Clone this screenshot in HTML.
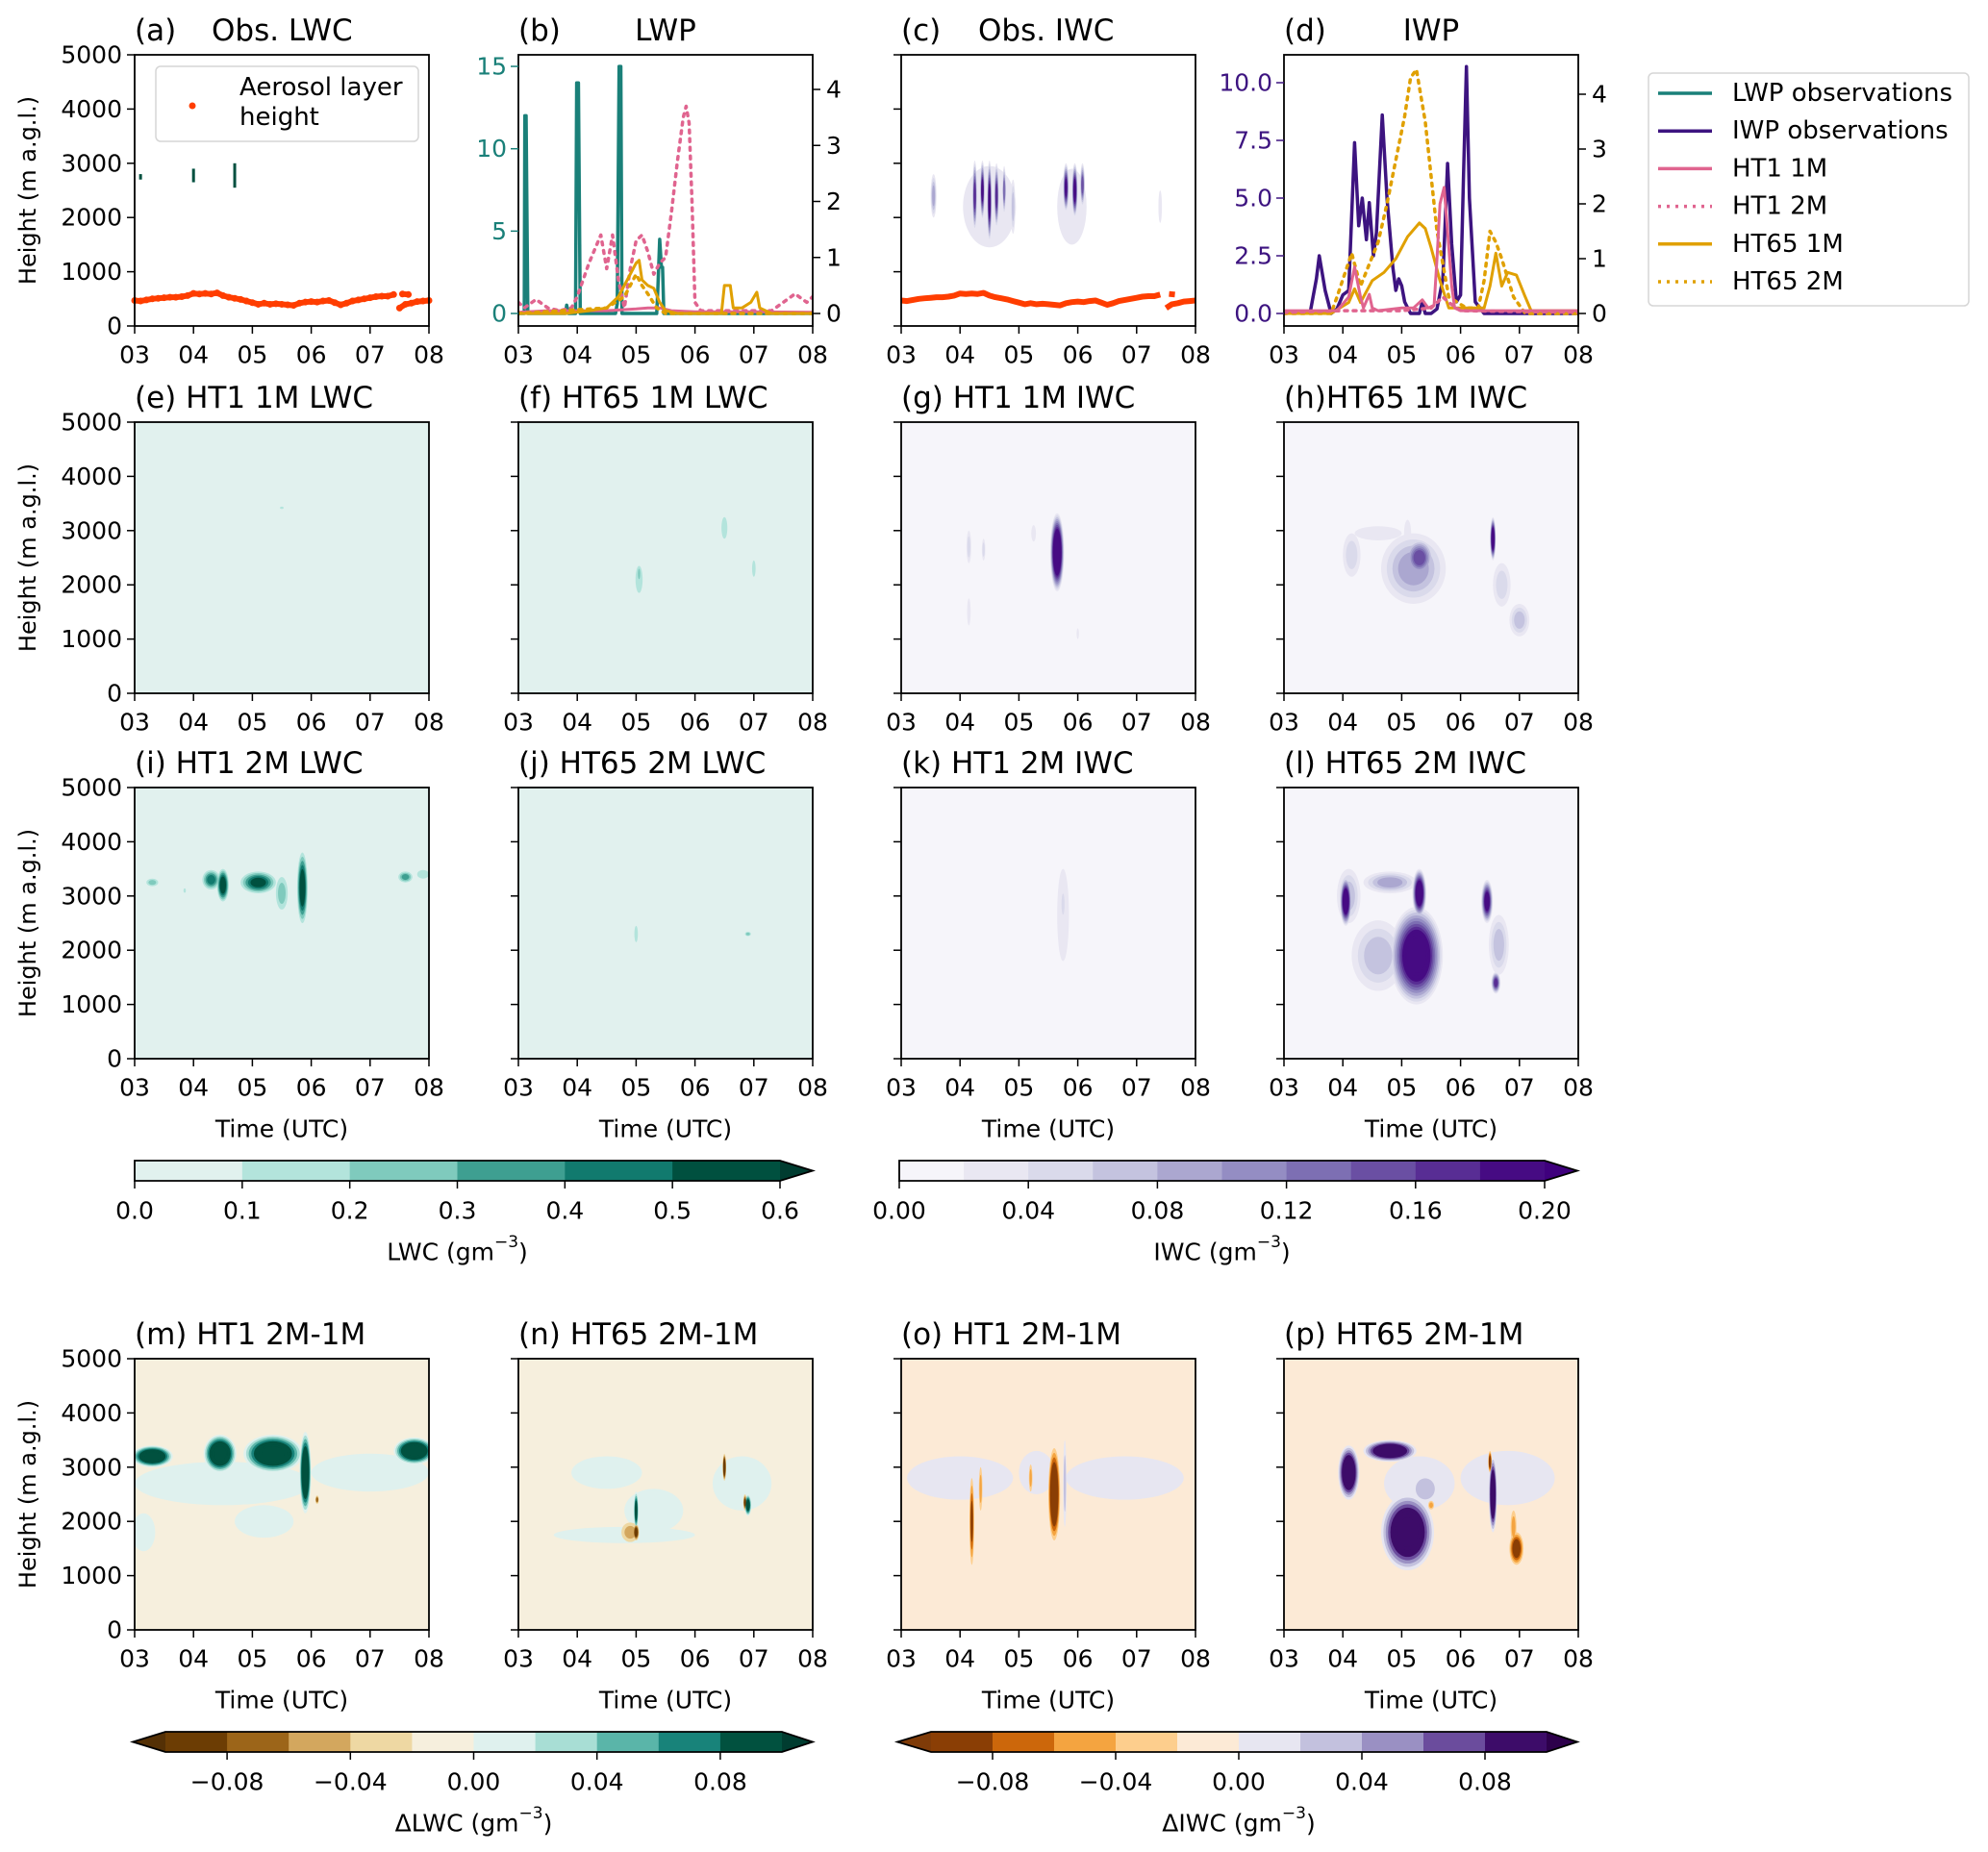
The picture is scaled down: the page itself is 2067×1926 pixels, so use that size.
<!DOCTYPE html>
<html><head><meta charset="utf-8"><style>
html,body{margin:0;padding:0;background:#fff;}
svg{display:block;font-family:"DejaVu Sans","Liberation Sans",sans-serif;}
</style></head><body>
<svg id="fig" xmlns="http://www.w3.org/2000/svg" width="2067" height="1926" viewBox="0 0 2067 1926"></svg>
<script>
// ---------- data ----------
const timeTicks = ["03","04","05","06","07","08"];
const heightTicks = [0,1000,2000,3000,4000,5000];
const lwpLeftTicks = [0,5,10,15];
const rightTicks = [0,1,2,3,4];
const iwpLeftTicks = ["0.0","2.5","5.0","7.5","10.0"];
const lwcCbTicks = ["0.0","0.1","0.2","0.3","0.4","0.5","0.6"];
const iwcCbTicks = ["0.00","0.04","0.08","0.12","0.16","0.20"];
const dCbTicks = ["\u22120.08","\u22120.04","0.00","0.04","0.08"];

// panel (a) aerosol layer height
const aerT = [3.0,3.1,3.2,3.3,3.4,3.5,3.6,3.7,3.8,3.9,4.0,4.1,4.2,4.3,4.4,4.5,4.6,4.7,4.8,4.9,5.0,5.1,5.2,5.3,5.4,5.5,5.6,5.7,5.8,5.9,6.0,6.1,6.2,6.3,6.4,6.5,6.6,6.7,6.8,6.9,7.0,7.1,7.2,7.3,7.4];
const aerH = [470,460,480,500,510,520,530,530,540,560,600,590,600,590,610,560,530,510,490,460,430,400,420,400,410,400,390,380,420,440,450,440,460,470,430,390,420,460,480,500,520,540,550,550,580];
const aerT2 = [7.5,7.6,7.7,7.8,7.9,8.0];
const aerH2 = [330,400,420,450,460,470];
const aerT3 = [7.55,7.65];
const aerH3 = [590,580];
const obsLwcT = [3.1,4.0,4.7];
const obsLwcBot = [2700,2650,2550];
const obsLwcTop = [2800,2900,3000];

// panel (b) LWP
const lwpObsT = [3.0,3.1,3.11,3.13,3.16,3.18,3.8,3.82,3.85,3.97,3.99,4.02,4.05,4.07,4.65,4.68,4.71,4.74,4.76,5.35,5.37,5.4,5.43,5.45,5.47,5.5,8.0];
const lwpObsV = [0,0,12,12,0,0,0,0.5,0,0,14,14,0,0,0,0.6,15,15,0,0,1.5,4.5,2.8,2.8,0,0,0];
const bHt1m1T = [3,3.5,4,4.5,5,5.2,5.4,5.6,6,7,8];
const bHt1m1V = [0.02,0.05,0.05,0.05,0.08,0.1,0.1,0.05,0.03,0.03,0.02];
const bHt1m2T = [3,3.1,3.3,3.5,3.7,3.9,4.0,4.2,4.4,4.5,4.6,4.7,4.8,4.9,5.0,5.1,5.2,5.3,5.4,5.5,5.6,5.7,5.8,5.85,5.9,5.95,6.0,6.1,6.5,7.0,7.3,7.5,7.7,7.9,8.0];
const bHt1m2V = [0.2,0.1,0.25,0.1,0.05,0.1,0.3,0.9,1.4,0.8,1.4,0.6,0.1,0.8,1.3,1.4,1.1,0.7,0.9,1.0,1.8,2.7,3.5,3.7,3.4,2.0,0.2,0.05,0.05,0.05,0.05,0.2,0.35,0.2,0.3];
const bHt65m1T = [3,3.8,4.2,4.5,4.7,4.9,5.0,5.05,5.1,5.2,5.3,5.4,5.5,5.7,6.0,6.45,6.5,6.6,6.65,6.8,6.95,7.05,7.1,7.3,8];
const bHt65m1V = [0,0,0.05,0.1,0.3,0.7,0.9,0.95,0.6,0.5,0.45,0.2,0.05,0,0,0,0.5,0.5,0.1,0.1,0.2,0.38,0.1,0,0];
const bHt65m2T = [3,4.5,4.8,5.0,5.1,5.2,5.35,5.5,5.8,8];
const bHt65m2V = [0,0.1,0.3,0.7,0.5,0.35,0.1,0,0,0];

// panel (d) IWP
const iwpObsT = [3,3.45,3.55,3.6,3.7,3.8,3.9,4.0,4.1,4.2,4.27,4.33,4.4,4.45,4.52,4.57,4.62,4.67,4.75,4.85,4.9,4.95,5.0,5.05,5.15,5.3,5.35,5.4,5.5,5.6,5.7,5.78,5.85,5.93,6.0,6.05,6.1,6.15,6.25,6.4,6.5,8];
const iwpObsV = [0,0.1,1.5,2.5,1.0,0,0.2,0.8,1.0,7.4,3.8,5.0,3.2,4.8,2.5,3.5,6.0,8.6,5.0,2.0,1.0,1.5,1.2,0.5,0,0,0.5,0,0,0.2,1.5,6.5,3.0,0.5,0.8,6.0,10.7,5,0.5,0,0,0];
const dHt1m1T = [3,3.9,4.1,4.2,4.3,4.35,4.45,4.5,4.6,5.0,5.2,5.35,5.45,5.55,5.6,5.65,5.72,5.78,5.85,5.9,6.0,6.5,8];
const dHt1m1V = [0.05,0.05,0.3,0.85,0.3,0.1,0.35,0.1,0.05,0.1,0.1,0.25,0.1,0.15,1.0,2.0,2.3,1.5,0.5,0.1,0.05,0.05,0.05];
const dHt1m2T = [3,4,5,5.5,5.7,5.8,6,8];
const dHt1m2V = [0.02,0.05,0.05,0.1,0.3,0.2,0.05,0.02];
const dHt65m1T = [3,3.8,4.1,4.2,4.3,4.5,4.7,4.9,5.1,5.3,5.4,5.5,5.65,5.8,6.4,6.5,6.6,6.7,6.8,6.95,7.1,7.2,8];
const dHt65m1V = [0,0,0.2,0.45,0.2,0.6,0.75,1.0,1.4,1.65,1.55,1.2,0.6,0.1,0.1,0.5,1.1,0.5,0.75,0.7,0.3,0.05,0.05];
const dHt65m2T = [3,3.8,3.9,4.15,4.3,4.45,4.6,4.75,4.9,5.05,5.15,5.25,5.4,5.5,5.6,5.8,6.1,6.3,6.4,6.5,6.6,6.7,6.9,7.1,8];
const dHt65m2V = [0,0,0.3,1.1,0.5,0.9,1.3,2.0,2.8,3.6,4.3,4.45,3.5,2.5,1.5,0.3,0.1,0.1,0.6,1.5,1.3,1.0,0.3,0,0];

// contour blobs: [time, height, halfWidthHours, halfHeightM, level]
const blobsC = [[4.5,2200,0.45,750,1],[5.9,2200,0.25,700,1],[3.55,2400,0.05,400,4],[4.25,2400,0.04,650,8],[4.38,2500,0.04,550,9],[4.5,2300,0.04,750,10],[4.62,2400,0.04,600,8],[4.75,2500,0.03,450,6],[4.9,2200,0.04,500,3],[5.8,2550,0.05,450,9],[5.95,2500,0.05,500,10],[6.08,2600,0.04,400,7],[7.4,2200,0.03,300,1]];
const blobsE = [[5.5,3420,0.03,20,1]];
const blobsF = [[5.05,2100,0.06,250,1],[5.05,2200,0.02,150,2],[6.5,3050,0.05,200,1],[7.0,2300,0.03,150,1]];
const blobsG = [[4.15,2700,0.04,300,2],[4.15,1500,0.03,250,1],[4.4,2650,0.03,200,2],[5.25,2950,0.04,150,1],[5.65,2600,0.12,720,14],[6.0,1100,0.02,100,1]];
const blobsH = [[4.15,2550,0.15,400,2],[4.6,2950,0.4,130,1],[5.1,2950,0.06,250,1],[5.2,2300,0.55,650,4],[5.3,2500,0.25,350,7],[6.55,2850,0.05,400,12],[6.7,2000,0.15,400,2],[7.0,1350,0.17,300,3]];
const blobsI = [[3.3,3250,0.1,70,2],[3.85,3100,0.02,40,1],[4.3,3300,0.15,180,4],[4.5,3200,0.1,300,6],[5.1,3250,0.3,200,5],[5.5,3050,0.1,300,2],[5.85,3150,0.09,650,6],[7.6,3350,0.12,100,3],[7.9,3400,0.1,80,1]];
const blobsJ = [[5.0,2300,0.03,150,1],[6.9,2300,0.05,40,2]];
const blobsK = [[5.75,2650,0.1,850,1],[5.75,2850,0.04,300,2]];
const blobsL = [[4.1,3000,0.2,500,3],[4.05,2900,0.1,450,12],[4.8,3250,0.45,200,4],[4.6,1900,0.45,650,3],[5.25,1900,0.45,900,12],[5.3,3050,0.12,450,12],[6.45,2900,0.1,400,10],[6.65,2100,0.17,550,3],[6.6,1400,0.08,200,8]];
const blobsM = [[4.5,2700,1.5,400,1],[7.0,2900,1.0,350,1],[5.2,2000,0.5,300,1],[3.15,1800,0.2,350,1],[3.3,3200,0.35,200,8],[4.45,3250,0.28,350,8],[5.35,3250,0.5,350,8],[5.9,2900,0.1,750,8],[7.75,3300,0.35,250,8],[6.1,2400,0.03,80,-3]];
const blobsN = [[4.5,2900,0.6,300,1],[5.3,2200,0.5,400,1],[4.8,1750,1.2,150,1],[6.8,2700,0.5,500,1],[5.0,2200,0.04,350,6],[4.9,1800,0.15,180,-2],[5.0,1800,0.05,150,-5],[6.5,3000,0.03,250,-6],[6.9,2300,0.06,200,6],[6.85,2350,0.03,150,-4]];
const blobsO = [[4.0,2800,0.9,400,1],[6.8,2800,1.0,400,1],[5.3,2900,0.3,400,1],[4.2,2000,0.04,800,-4],[4.35,2600,0.03,400,-2],[5.2,2800,0.03,250,-2],[5.6,2500,0.1,850,-7],[5.78,2700,0.03,800,2]];
const blobsP = [[6.8,2800,0.8,500,1],[5.3,2700,0.6,500,1],[4.1,2900,0.18,500,8],[4.8,3300,0.45,200,8],[5.1,1800,0.45,700,8],[5.4,2600,0.25,300,2],[5.5,2300,0.05,80,-2],[6.55,2500,0.07,700,8],[6.5,3100,0.03,200,-5],[6.95,1500,0.12,300,-5],[6.9,1900,0.05,300,-2]];

// ---------- styles ----------
const lwcC = ['#e1f1ee','#b3e4dc','#7fcabd','#3e9f91','#117a6e','#00503f'];
const iwcC = ['#f6f5fa','#e9e7f2','#dadaeb','#c4c3df','#aba7d0','#948dc3','#7d6fb3','#6a4fa3','#582d94','#460b83'];
const dlwcC = ['#6c3d04','#9c6519','#d3a75e','#eed8a3','#f6efdd','#dff1ee','#a8ded5','#5ab5a9','#18837a','#01513f'];
const diwcC = ['#8a3e05','#cc670b','#f4a440','#fdce8d','#fcead6','#e7e6f1','#c3c1de','#9a90c3','#6b4c9d','#3d0c69'];
const TEAL='#1a8079', PURP='#3d1480', PINK='#e0648f', GOLD='#e0a000';

const NS='http://www.w3.org/2000/svg';
const svg=document.getElementById('fig');
const X0=[140,539,937,1335], W=306, ROWY=[57,439,819,1413], H=282;
function mk(tag,attrs,parent){const e=document.createElementNS(NS,tag);for(const k in attrs)e.setAttribute(k,attrs[k]);(parent||svg).appendChild(e);return e;}
function txt(x,y,s,size,anchor,fill,parent){const t=mk('text',{x:x,y:y,'font-size':size,'text-anchor':anchor||'start',fill:fill||'#000','dominant-baseline':'central','xml:space':'preserve'},parent);t.textContent=s;return t;}

function panelGroup(id,c,r){
  const g=mk('g',{});
  
  
  const cp=mk('clipPath',{id:'clip-'+id},g);
  mk('rect',{x:X0[c],y:ROWY[r],width:W,height:H},cp);
  return g;
}
function xT(c,t){return X0[c]+(t-3)/5*W;}
function yHm(r,h){return ROWY[r]+H-h/5000*H;}

function frame(g,c,r,bg){
  const b=mk('rect',{x:X0[c],y:ROWY[r],width:W,height:H,fill:bg},g);
  
  
}
function axesDecor(g,c,r,opts){
  const x0=X0[c], y0=ROWY[r];
  mk('rect',{x:x0,y:y0,width:W,height:H,fill:'none',stroke:'#000','stroke-width':1.8},g);
  const xa=mk('g',{},g);
  
  
  timeTicks.forEach((lab,i)=>{
    const x=xT(c,3+i);
    mk('line',{x1:x,y1:y0+H,x2:x,y2:y0+H+8,stroke:'#000','stroke-width':1.5},xa);
    const t=txt(x,y0+H+30,lab,25,'middle','#000',xa);
    
    
  });
  if(opts.heightAxis){
    const ya=mk('g',{},g);
    
    
    heightTicks.forEach(h=>{
      const y=yHm(r,h);
      mk('line',{x1:x0-8,y1:y,x2:x0,y2:y,stroke:'#000','stroke-width':1.5},ya);
      if(c===0){const t=txt(x0-13,y,String(h),25,'end','#000',ya);
        
        }
    });
    if(c===0){
      const yl=txt(0,0,'Height (m a.g.l.)',24,'middle','#000',ya);
      yl.setAttribute('transform','translate(29,'+(y0+H/2)+') rotate(-90)');
      
      
    }
  }
  if(opts.xlabel){
    const xl=txt(x0+W/2,y0+H+73,'Time (UTC)',25,'middle','#000',g);
    
    
  }
}
function title(g,c,r,parts){
  const x0=X0[c], y=ROWY[r]-25;
  parts.forEach(p=>{
    const t=txt(p[1]==='c'?x0+W/2:x0+p[1],y,p[0],31,p[1]==='c'?'middle':'start','#000',g);
    
    
  });
}
function drawBlobs(g,id,c,r,blobs,cmap,base){
  const cg=mk('g',{'clip-path':'url(#clip-'+id+')'},g);
  
  
  let maxL=0; blobs.forEach(b=>{maxL=Math.max(maxL,Math.abs(b[4]));});
  for(let k=1;k<=maxL;k++){
    blobs.forEach(b=>{
      const n=Math.abs(b[4]); if(n<k) return;
      const s=1-(k-1)/n*0.7, neg=b[4]<0;
      const col=cmap[Math.max(0,Math.min(cmap.length-1, neg? base-k : base+k))];
      const cx=xT(c,b[0]), cy=yHm(r,b[1]);
      const e=mk('ellipse',{cx:cx,cy:cy,rx:Math.max(1.2,b[2]/5*W*s),ry:Math.max(1.2,b[3]/5000*H*s),fill:col},cg);
      
      
    });
  }
}
function line(g,id,xs,ys,tArr,vArr,color,dotted,width){
  let d='';tArr.forEach((t,i)=>{d+=(i?'L':'M')+xs(t).toFixed(1)+' '+ys(vArr[i]).toFixed(1);});
  const p=mk('path',{d:d,fill:'none',stroke:color,'stroke-width':width||3,'stroke-linejoin':'round','clip-path':'url(#clip-'+id+')'},g);
  if(dotted){p.setAttribute('stroke-dasharray','3 6');p.setAttribute('stroke-linecap','round');}
  return p;
}

// ---------- row 1 ----------
{const g=panelGroup('a',0,0);
 const xs=t=>xT(0,t), ys=h=>yHm(0,h);
 obsLwcT.forEach((t,i)=>{const l=mk('line',{x1:xs(t),y1:ys(obsLwcBot[i]),x2:xs(t),y2:ys(obsLwcTop[i]),stroke:'#00503f','stroke-width':3},g);
   
   });
 [[aerT,aerH],[aerT2,aerH2],[aerT3,aerH3]].forEach(s=>{
   const p=line(g,'a',xs,ys,s[0],s[1],'#ff3d00',false,6);
   
   
   s[0].forEach((t,i)=>{const cc=mk('circle',{cx:xs(t),cy:ys(s[1][i]),r:3.5,fill:'#ff3d00'},g);
     
     });
 });
 const lg=mk('g',{},g);
 
 
 mk('rect',{x:162,y:69,width:273,height:78,rx:5,fill:'#fff','fill-opacity':0.8,stroke:'#d6d6d6','stroke-width':1.5},lg);
 mk('circle',{cx:200,cy:110,r:3.5,fill:'#ff3d00'},lg);
 txt(249,91,'Aerosol layer',26,'start','#000',lg);
 txt(249,122,'height',26,'start','#000',lg);
 axesDecor(g,0,0,{heightAxis:true});
 title(g,0,0,[['(a)',0],['Obs. LWC',80]]);
}
{const g=panelGroup('b',1,0);
 const xs=t=>xT(1,t);
 const yl=v=>326-v*17.13, yr=v=>326-v*58.25;
 const s1=line(g,'b',xs,yl,lwpObsT,lwpObsV,TEAL,false,3.5);
 
 
 const s2=line(g,'b',xs,yr,bHt1m2T,bHt1m2V,PINK,true,3.5);
 
 
 const s3=line(g,'b',xs,yr,bHt1m1T,bHt1m1V,PINK,false,3);
 
 
 const s4=line(g,'b',xs,yr,bHt65m2T,bHt65m2V,GOLD,true,3.5);
 
 
 const s5=line(g,'b',xs,yr,bHt65m1T,bHt65m1V,GOLD,false,3);
 
 
 axesDecor(g,1,0,{});
 const x0=X0[1];
 lwpLeftTicks.forEach(v=>{mk('line',{x1:x0-8,y1:yl(v),x2:x0,y2:yl(v),stroke:TEAL,'stroke-width':1.5},g);
   const t=txt(x0-12,yl(v),String(v),25,'end',TEAL,g);
   
   });
 rightTicks.forEach(v=>{mk('line',{x1:x0+W,y1:yr(v),x2:x0+W+8,y2:yr(v),stroke:'#000','stroke-width':1.5},g);
   const t=txt(x0+W+14,yr(v),String(v),25,'start','#000',g);
   
   });
 title(g,1,0,[['(b)',0],['LWP','c']]);
}
{const g=panelGroup('c',2,0);
 drawBlobs(g,'c',2,0,blobsC,iwcC,0);
 const xs=t=>xT(2,t), ys=h=>yHm(0,h);
 [[aerT,aerH],[aerT2,aerH2],[aerT3,aerH3]].forEach(s=>{
   const p=line(g,'c',xs,ys,s[0],s[1],'#ff3d00',false,6);
   
   
 });
 axesDecor(g,2,0,{heightAxis:true});
 title(g,2,0,[['(c)',0],['Obs. IWC',80]]);
}
{const g=panelGroup('d',3,0);
 const xs=t=>xT(3,t);
 const yl=v=>326-v*24, yr=v=>326-v*57;
 const s1=line(g,'d',xs,yl,iwpObsT,iwpObsV,PURP,false,3.5);
 
 
 const s2=line(g,'d',xs,yr,dHt65m2T,dHt65m2V,GOLD,true,3.5);
 
 
 const s3=line(g,'d',xs,yr,dHt65m1T,dHt65m1V,GOLD,false,3);
 
 
 const s4=line(g,'d',xs,yr,dHt1m2T,dHt1m2V,PINK,true,3.5);
 
 
 const s5=line(g,'d',xs,yr,dHt1m1T,dHt1m1V,PINK,false,3);
 
 
 axesDecor(g,3,0,{});
 const x0=X0[3];
 iwpLeftTicks.forEach(s=>{const v=parseFloat(s);mk('line',{x1:x0-8,y1:yl(v),x2:x0,y2:yl(v),stroke:PURP,'stroke-width':1.5},g);
   const t=txt(x0-12,yl(v),s,25,'end',PURP,g);
   
   });
 rightTicks.forEach(v=>{mk('line',{x1:x0+W,y1:yr(v),x2:x0+W+8,y2:yr(v),stroke:'#000','stroke-width':1.5},g);
   const t=txt(x0+W+14,yr(v),String(v),25,'start','#000',g);
   
   });
 title(g,3,0,[['(d)',0],['IWP','c']]);
}
{const lg=mk('g',{});
 
 
 mk('rect',{x:1714,y:76,width:333,height:242,rx:5,fill:'#fff',stroke:'#d6d6d6','stroke-width':1.5},lg);
 const ents=[['LWP observations',TEAL,false],['IWP observations',PURP,false],['HT1 1M',PINK,false],['HT1 2M',PINK,true],['HT65 1M',GOLD,false],['HT65 2M',GOLD,true]];
 ents.forEach((e,i)=>{const y=97+i*39.2;
   const l=mk('line',{x1:1724,y1:y,x2:1780,y2:y,stroke:e[1],'stroke-width':3.5},lg);
   if(e[2]){l.setAttribute('stroke-dasharray','3 6');}
   const t=txt(1801,y,e[0],26,'start','#000',lg);
   
   });
}

// ---------- rows 2-4 ----------
const gridPanels=[
 ['e',0,1,'(e) HT1 1M LWC',blobsE,lwcC,0],
 ['f',1,1,'(f) HT65 1M LWC',blobsF,lwcC,0],
 ['g',2,1,'(g) HT1 1M IWC',blobsG,iwcC,0],
 ['h',3,1,'(h)HT65 1M IWC',blobsH,iwcC,0],
 ['i',0,2,'(i)  HT1 2M LWC',blobsI,lwcC,0],
 ['j',1,2,'(j) HT65 2M LWC',blobsJ,lwcC,0],
 ['k',2,2,'(k) HT1 2M IWC',blobsK,iwcC,0],
 ['l',3,2,'(l) HT65 2M IWC',blobsL,iwcC,0],
 ['m',0,3,'(m) HT1 2M-1M',blobsM,dlwcC,4],
 ['n',1,3,'(n) HT65 2M-1M',blobsN,dlwcC,4],
 ['o',2,3,'(o)  HT1 2M-1M',blobsO,diwcC,4],
 ['p',3,3,'(p) HT65 2M-1M',blobsP,diwcC,4]];
gridPanels.forEach(p=>{
  const g=panelGroup(p[0],p[1],p[2]);
  frame(g,p[1],p[2],p[5][p[6]]);
  drawBlobs(g,p[0],p[1],p[2],p[4],p[5],p[6]);
  axesDecor(g,p[1],p[2],{heightAxis:true,xlabel:p[2]>=2});
  title(g,p[1],p[2],[[p[3],0]]);
});

// ---------- colorbars ----------
function colorbar(name,x0,x1,y0,y1,cols,extL,extR,leftTip,rightTip,ticks,tickPos,label){
  const g=mk('g',{});
  
  
  const n=cols.length, w=(x1-x0)/n, ym=(y0+y1)/2;
  cols.forEach((c,i)=>{const r=mk('rect',{x:x0+i*w,y:y0,width:w+0.6,height:y1-y0,fill:c},g);
    
    });
  let d='M'+x0+' '+y0+'L'+x1+' '+y0;
  if(rightTip){mk('path',{d:'M'+x1+' '+y0+'L'+rightTip+' '+ym+'L'+x1+' '+y1+'Z',fill:extR},g);d+='L'+rightTip+' '+ym;}
  d+='L'+x1+' '+y1+'L'+x0+' '+y1;
  if(leftTip){mk('path',{d:'M'+x0+' '+y0+'L'+leftTip+' '+ym+'L'+x0+' '+y1+'Z',fill:extL},g);d+='L'+leftTip+' '+ym;}
  d+='Z';
  mk('path',{d:d,fill:'none',stroke:'#000','stroke-width':1.8},g);
  ticks.forEach((t,i)=>{const x=tickPos(i);
    mk('line',{x1:x,y1:y1,x2:x,y2:y1+8,stroke:'#000','stroke-width':1.5},g);
    const tt=txt(x,y1+31,t,25,'middle','#000',g);
    
    });
  const lt=mk('text',{x:(x0+x1)/2,y:y1+74,'font-size':25,'text-anchor':'middle','dominant-baseline':'central'},g);
  
  
  lt.appendChild(document.createTextNode(label+' (gm'));
  const sup=mk('tspan',{'font-size':17,dy:-10},lt); sup.textContent='\u22123';
  const cl=mk('tspan',{dy:10},lt); cl.textContent=')';
}
colorbar('lwc-colorbar',140,811,1207,1228,lwcC,null,'#003c30',null,845,lwcCbTicks,i=>140+i*(671/6),'LWC');
colorbar('iwc-colorbar',935,1606,1207,1228,iwcC,null,'#3f007d',null,1640,iwcCbTicks,i=>935+i*(671/5),'IWC');
colorbar('delta-lwc-colorbar',172,813,1801,1822,dlwcC,'#543005','#003c30',138,845,dCbTicks,i=>172+64.1+i*128.2,'\u0394LWC');
colorbar('delta-iwc-colorbar',968,1608,1801,1822,diwcC,'#7f3b08','#2d004b',933,1640,dCbTicks,i=>968+64+i*128,'\u0394IWC');
</script>
</body></html>
